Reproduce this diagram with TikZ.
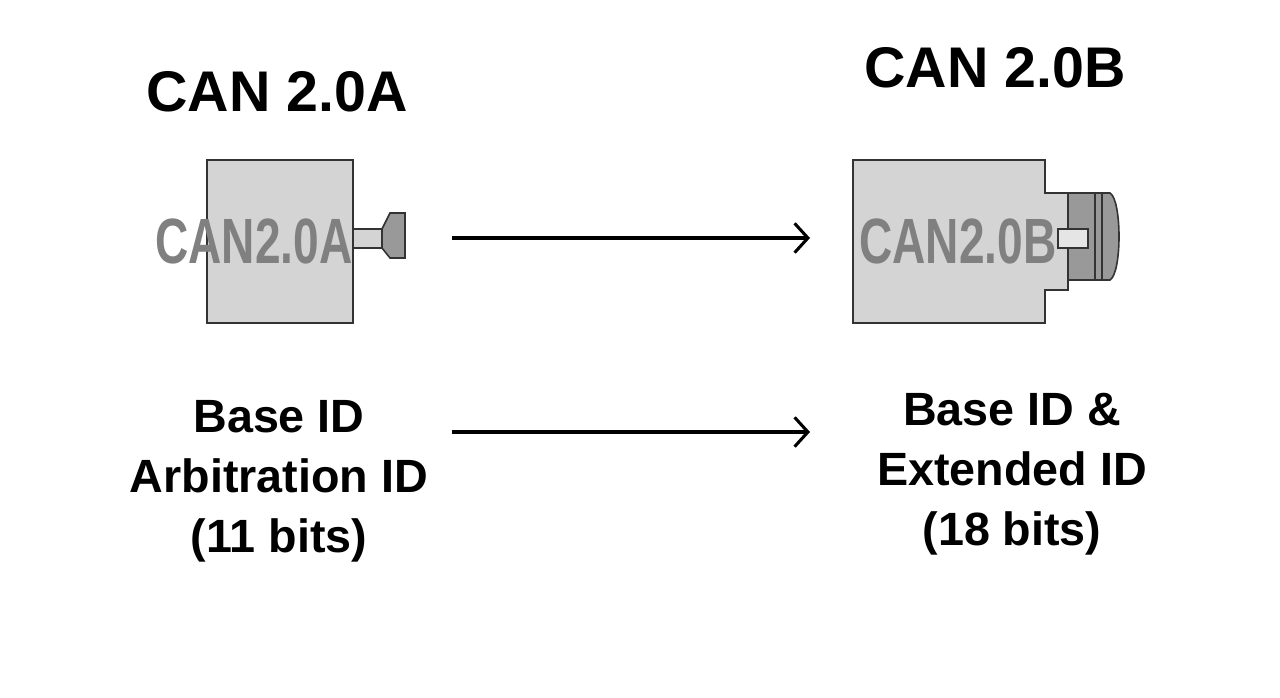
\documentclass[tikz,border=0pt]{standalone}
\usepackage{fontspec}
\setmainfont{Liberation Sans}
\usetikzlibrary{arrows.meta}
\begin{document}
\begin{tikzpicture}[x=0.75pt,y=-0.75pt,
  title/.style={font=\fontsize{43}{48}\selectfont\bfseries},
  lbl/.style={font=\fontsize{35}{45}\selectfont\bfseries,align=center},
  part/.style={draw=black!80,line width=1.2pt,fill=black!17},
  dark/.style={draw=black!80,line width=1.2pt,fill=black!40},
  emb/.style={font=\fontsize{48}{50}\selectfont\bfseries,text=black!50,xscale=0.72},
  arr/.style={-{Straight Barb[length=10pt,width=22pt]},line width=2.3pt}]
\useasboundingbox (0,0) rectangle (1280,698);
% titles
\node[title] (ta) at (277,92) {CAN 2.0A};
\node[title] (tb) at (995,68) {CAN 2.0B};
% left connector
\draw[part] (207,160) rectangle (353,323);
\draw[part] (353,229) rectangle (382,248);
\draw[dark] (382,229) -- (390,213) -- (405,213) -- (405,258) -- (390,258) -- (382,248) -- cycle;
\node[emb] (ea) at (254,241) {CAN2.0A};
% right connector
\draw[part] (853,160) -- (1045,160) -- (1045,193) -- (1068,193) -- (1068,290) -- (1045,290) -- (1045,323) -- (853,323) -- cycle;
\draw[dark] (1068,193) rectangle (1095,280);
\draw[dark] (1095,193) -- (1110,193) .. controls (1122,200) and (1122,273) .. (1110,280) -- (1095,280) -- cycle;
\draw[dark] (1095,193) rectangle (1102,280);
\draw[part,fill=black!10] (1058,229) rectangle (1088,248);
\node[emb] (eb) at (958,241) {CAN2.0B};
% arrows
\coordinate (a1) at (452,238); \coordinate (b1) at (810,238);
\coordinate (a2) at (452,432); \coordinate (b2) at (810,432);
\draw[arr] (a1) -- (b1);
\draw[arr] (a2) -- (b2);
% labels
\node[lbl] (la) at (279,481) {Base ID\\Arbitration ID\\(11 bits)};
\node[lbl] (lb) at (1012,474) {Base ID \&\\Extended ID\\(18 bits)};
\end{tikzpicture}
\end{document}
